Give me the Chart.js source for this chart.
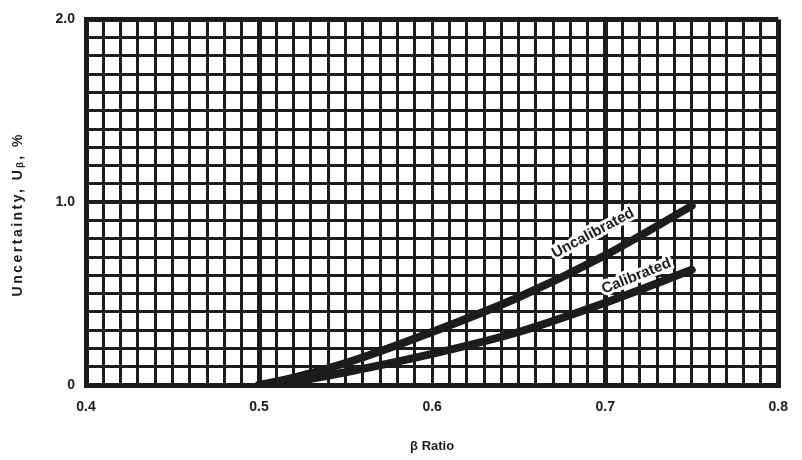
<!DOCTYPE html>
<html>
<head>
<meta charset="utf-8">
<script src="https://cdn.jsdelivr.net/npm/chart.js@4"></script>
<style>
  html, body { margin: 0; padding: 0; background: #fff; }
  #wrap { width: 802px; height: 460px; }
</style>
</head>
<body>
<div id="wrap"><canvas id="chart" width="802" height="460"></canvas></div>
<script>
// beta ratio values
const betaRatio = [0.5, 0.52, 0.55, 0.6, 0.65, 0.7, 0.75];
const uncalibrated = [0, 0.04, 0.12, 0.29, 0.48, 0.71, 0.98];
const calibrated = [0, 0.02, 0.07, 0.17, 0.29, 0.45, 0.63];

// axis labels
const xTickLabels = ['0.4', '0.5', '0.6', '0.7', '0.8'];
const yTickLabels = ['0', '1.0', '2.0'];
const xTitle = 'β Ratio';
const yTitle = 'Uncertainty, Uᵦ, %';

// curve captions (x, y in data units, angle in degrees)
const captionText = ['Uncalibrated', 'Calibrated'];
const captionX = [0.693, 0.718];
const captionY = [0.83, 0.595];
const captionAngle = [-28, -22];

const ink = '#1c1c1c';
const fontFamily = '"Liberation Sans", Arial, sans-serif';

function toPoints(xs, ys) {
    return xs.map((x, i) => ({ x: x, y: ys[i] }));
}

// captions along the curves + spaced out y title
const textPlugin = {
    id: 'texts',
    afterDatasetsDraw(chart) {
        const ctx = chart.ctx;
        const xs = chart.scales.x, ys = chart.scales.y;
        ctx.save();
        ctx.font = 'bold 15px ' + fontFamily;
        ctx.textAlign = 'center';
        ctx.textBaseline = 'middle';
        captionText.forEach((t, i) => {
            ctx.save();
            ctx.translate(xs.getPixelForValue(captionX[i]), ys.getPixelForValue(captionY[i]));
            ctx.rotate(captionAngle[i] * Math.PI / 180);
            ctx.lineWidth = 6;
            ctx.strokeStyle = '#fff';
            ctx.lineJoin = 'round';
            ctx.strokeText(t, 0, 0);
            ctx.fillStyle = ink;
            ctx.fillText(t, 0, 0);
            ctx.restore();
        });
        // y axis title
        ctx.save();
        ctx.translate(18, (chart.chartArea.top + chart.chartArea.bottom) / 2 + 12);
        ctx.rotate(-Math.PI / 2);
        ctx.font = 'bold 14px ' + fontFamily;
        ctx.letterSpacing = '2.5px';
        ctx.fillStyle = ink;
        ctx.fillText(yTitle, 0, 0);
        ctx.restore();
        ctx.restore();
    }
};

new Chart(document.getElementById('chart'), {
    type: 'scatter',
    data: {
        datasets: [
            {
                label: 'Uncalibrated',
                data: toPoints(betaRatio, uncalibrated),
                showLine: true,
                borderColor: ink,
                borderWidth: 8,
                pointRadius: 0,
                cubicInterpolationMode: 'monotone',
                borderCapStyle: 'round'
            },
            {
                label: 'Calibrated',
                data: toPoints(betaRatio, calibrated),
                showLine: true,
                borderColor: ink,
                borderWidth: 8,
                pointRadius: 0,
                cubicInterpolationMode: 'monotone',
                borderCapStyle: 'round'
            }
        ]
    },
    options: {
        responsive: false,
        animation: false,
        layout: { padding: { left: 0, right: 13, top: 19, bottom: 0 } },
        plugins: {
            legend: { display: false },
            tooltip: { enabled: false }
        },
        scales: {
            x: {
                type: 'linear',
                min: 0.4,
                max: 0.8,
                afterBuildTicks: (scale) => {
                    const t = [];
                    for (let i = 0; i <= 40; i++) t.push({ value: Math.round(400 + i * 10) / 1000 });
                    scale.ticks = t;
                },
                afterFit: (scale) => { scale.height = 75; },
                grid: {
                    color: ink,
                    drawTicks: false,
                    lineWidth: (c) => {
                        const i = c.index;
                        if (i === 0 || i === 40 || i === 10 || i === 30) return 5;
                        return 3;
                    }
                },
                border: { display: true, color: ink, width: 5 },
                ticks: {
                    autoSkip: false,
                    maxRotation: 0,
                    padding: 14,
                    color: ink,
                    font: { family: fontFamily, size: 14, weight: 'bold' },
                    callback: (v, i) => (i % 10 === 0) ? xTickLabels[i / 10] : ''
                },
                title: {
                    display: true,
                    text: xTitle,
                    color: ink,
                    font: { family: fontFamily, size: 13, weight: 'bold' },
                    padding: { top: 0, bottom: 6 }
                }
            },
            y: {
                type: 'linear',
                min: 0,
                max: 2,
                afterBuildTicks: (scale) => {
                    const t = [];
                    for (let i = 0; i <= 20; i++) t.push({ value: i / 10 });
                    scale.ticks = t;
                },
                afterFit: (scale) => { scale.width = 86; },
                grid: {
                    color: ink,
                    drawTicks: false,
                    lineWidth: (c) => {
                        const i = c.index;
                        if (i === 0 || i === 20) return 5;
                        return (i === 10) ? 4 : 3;
                    }
                },
                border: { display: true, color: ink, width: 5 },
                ticks: {
                    autoSkip: false,
                    padding: 11,
                    color: ink,
                    font: { family: fontFamily, size: 14, weight: 'bold' },
                    callback: (v, i) => (i % 10 === 0) ? yTickLabels[i / 10] : ''
                },
                title: { display: false }
            }
        }
    },
    plugins: [textPlugin]
});
</script>
</body>
</html>
